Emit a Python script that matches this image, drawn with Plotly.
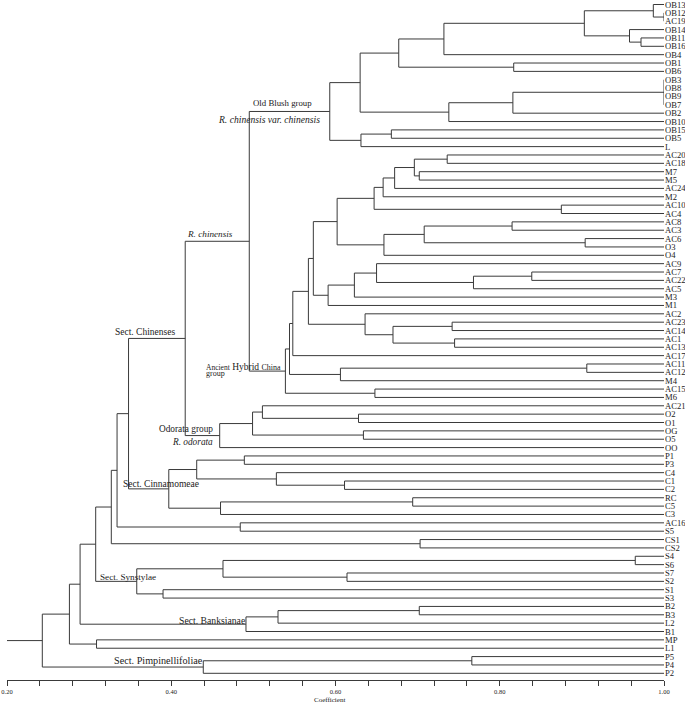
import plotly.graph_objects as go

# ---------------- data ----------------
leaves = ["OB13", "OB12", "AC19", "OB14", "OB11", "OB16", "OB4", "OB1", "OB6",
          "OB3", "OB8", "OB9", "OB7", "OB2", "OB10", "OB15", "OB5", "L",
          "AC20", "AC18", "M7", "M5", "AC24", "M2", "AC10", "AC4", "AC8", "AC3",
          "AC6", "O3", "O4", "AC9", "AC7", "AC22", "AC5", "M3", "M1", "AC2",
          "AC23", "AC14", "AC1", "AC13", "AC17", "AC11", "AC12", "M4", "AC15", "M6",
          "AC21", "O2", "O1", "OG", "O5", "OO",
          "P1", "P3", "C4", "C1", "C2", "RC", "C5", "C3",
          "AC16", "S5", "CS1", "CS2",
          "S4", "S6", "S7", "S2", "S1", "S3",
          "B2", "B3", "L2", "B1", "MP", "L1", "P5", "P4", "P2"]

leaf_coef = 1.00

# merges (bottom-up): node name, joined children, similarity coefficient
node_names = ["n1", "n2", "n3", "n4", "n5", "n6", "n7", "n8", "n9", "n10", "n11", "n12", "n13", "n14", "oldblush",
              "h1", "h2", "h3", "h4", "h5", "h6", "h7", "h8", "h9", "h10", "h11", "h12", "h13", "h14", "h15",
              "h16", "h17", "h18", "h19", "h20", "h21", "h22", "h23", "h24", "h25", "h26", "h27", "h28", "ahc",
              "chin",
              "o1", "o2", "o3", "o4", "odor",
              "c0",
              "p1", "p2", "p3", "p4", "p5", "p6", "cinn",
              "s0", "q1", "q2", "q3", "q4",
              "y1", "y2", "y3", "y4", "syn", "q5",
              "b1", "b2", "bank", "q6", "m1", "q7",
              "r1", "pimp", "root"]

node_children = [["OB12", "AC19"], ["OB13", "n1"], ["OB11", "OB16"], ["OB14", "n3"], ["n2", "n4"],
                 ["n5", "OB4"], ["OB1", "OB6"], ["n6", "n7"], ["OB3", "OB8", "OB9", "OB7"], ["n9", "OB2"],
                 ["n10", "OB10"], ["n8", "n11"], ["OB15", "OB5"], ["n13", "L"], ["n12", "n14"],
                 ["AC20", "AC18"], ["M7", "M5"], ["h1", "h2"], ["h3", "AC24"], ["h4", "M2"],
                 ["AC10", "AC4"], ["h5", "h6"], ["AC8", "AC3"], ["AC6", "O3"], ["h8", "h9"],
                 ["h10", "O4"], ["h7", "h11"], ["AC7", "AC22"], ["h13", "AC5"], ["AC9", "h14"],
                 ["h15", "M3"], ["h16", "M1"], ["h12", "h17"], ["AC23", "AC14"], ["AC1", "AC13"],
                 ["h19", "h20"], ["AC2", "h21"], ["h18", "h22"], ["h23", "AC17"], ["AC11", "AC12"],
                 ["h25", "M4"], ["h24", "h26"], ["AC15", "M6"], ["h27", "h28"],
                 ["oldblush", "ahc"],
                 ["O2", "O1"], ["AC21", "o1"], ["OG", "O5"], ["o2", "o3"], ["o4", "OO"],
                 ["chin", "odor"],
                 ["P1", "P3"], ["C1", "C2"], ["C4", "p2"], ["p1", "p3"], ["RC", "C5"], ["p5", "C3"], ["p4", "p6"],
                 ["c0", "cinn"], ["AC16", "S5"], ["s0", "q1"], ["CS1", "CS2"], ["q2", "q3"],
                 ["S4", "S6"], ["S7", "S2"], ["y1", "y2"], ["S1", "S3"], ["y3", "y4"], ["q4", "syn"],
                 ["B2", "B3"], ["b1", "L2"], ["b2", "B1"], ["q5", "bank"], ["MP", "L1"], ["q6", "m1"],
                 ["P5", "P4"], ["r1", "P2"], ["q7", "pimp"]]

node_coef = [1.000, 0.987, 0.972, 0.958, 0.903, 0.732, 0.817, 0.677, 1.000, 0.816, 0.738, 0.630, 0.668, 0.631, 0.593,
             0.736, 0.702, 0.696, 0.672, 0.658, 0.875, 0.647, 0.815, 0.904, 0.708, 0.659, 0.602, 0.839, 0.768, 0.650,
             0.623, 0.591, 0.573, 0.742, 0.745, 0.670, 0.636, 0.567, 0.548, 0.906, 0.606, 0.544, 0.648, 0.539,
             0.495,
             0.628, 0.511, 0.634, 0.499, 0.459,
             0.417,
             0.489, 0.611, 0.528, 0.431, 0.694, 0.460, 0.397,
             0.348, 0.484, 0.334, 0.703, 0.327,
             0.965, 0.614, 0.463, 0.390, 0.358, 0.308,
             0.702, 0.530, 0.491, 0.289, 0.309, 0.276,
             0.766, 0.439, 0.243]

tick_vals = [0.20, 0.40, 0.60, 0.80, 1.00]
tick_text = ["0.20", "0.40", "0.60", "0.80", "1.00"]
axis_min, axis_max = 0.20, 1.00

# group labels: text, coefficient, leaf-row position
group_text = ["Old Blush group", "<i>R. chinensis var. chinensis</i>", "<i>R. chinensis</i>", "Sect. Chinenses",
              "<span style='font-size:7.5px'>Ancient</span> Hybrid <span style='font-size:8px'>China</span>",
              "group",
              "Odorata group", "<i>R. odorata</i>", "Sect. Cinnamomeae", "Sect. Synstylae",
              "Sect. Banksianae", "Sect. Pimpinellifoliae"]
group_x = [0.4983, 0.456, 0.4183, 0.3298, 0.4406, 0.4406, 0.3834, 0.4001, 0.340, 0.3124, 0.4082, 0.329]
group_y = [11.74, 13.73, 27.48, 39.13, 43.31, 44.18, 50.76, 52.28, 57.37, 68.42, 73.69, 78.5]
group_size = [8.8, 9.6, 9.2, 9.5, 9.5, 8, 9.3, 9.3, 9.5, 9.2, 9.7, 10.2]

# ---------------- build dendrogram segments ----------------
pos = {name: (leaf_coef, i) for i, name in enumerate(leaves)}
xs, ys = [], []
for name, kids, h in zip(node_names, node_children, node_coef):
    kid_y = [pos[k][1] for k in kids]
    for k in kids:
        kx, ky = pos[k]
        xs += [kx, h, None]
        ys += [ky, ky, None]
    xs += [h, h, None]
    ys += [min(kid_y), max(kid_y), None]
    pos[name] = (h, (min(kid_y) + max(kid_y)) / 2)
rx, ry = pos["root"]
xs += [axis_min, rx, None]
ys += [ry, ry, None]

FONT = "Liberation Serif, Times New Roman, serif"
LINE = "#3a3a3a"
TXT = "#222222"

fig = go.Figure()
fig.add_trace(go.Scatter(x=xs, y=ys, mode="lines", line=dict(color=LINE, width=1),
                         hoverinfo="skip", showlegend=False, cliponaxis=False))

for i, name in enumerate(leaves):
    fig.add_annotation(x=leaf_coef, y=i, xref="x", yref="y", text=name, showarrow=False,
                       xanchor="left", yanchor="middle", borderpad=0, xshift=-0.5,
                       font=dict(family=FONT, size=8.6, color=TXT))

for t, gx, gy, gs in zip(group_text, group_x, group_y, group_size):
    fig.add_annotation(x=gx, y=gy, xref="x", yref="y", text=t, showarrow=False, borderpad=0,
                       xanchor="left", yanchor="middle", font=dict(family=FONT, size=gs, color=TXT))

fig.add_annotation(x=0.4916, y=-0.0294, xref="paper", yref="paper", text="Coefficient", showarrow=False,
                   xanchor="center", yanchor="middle", font=dict(family=FONT, size=7, color=TXT))

n = len(leaves)
fig.update_layout(
    width=685, height=704,
    margin=dict(l=6.7, r=21.3, t=0, b=24, pad=0),
    paper_bgcolor="white", plot_bgcolor="white",
    template="none",
    xaxis=dict(range=[axis_min, axis_max], tickvals=tick_vals, ticktext=tick_text,
               showline=True, linecolor=LINE, linewidth=1, ticks="outside", ticklen=5,
               tickcolor=LINE, tickwidth=1, showgrid=False, zeroline=False, automargin=False,
               tickfont=dict(family=FONT, size=6.5, color=TXT),
               minor=dict(dtick=0.04, tick0=0.2, ticks="outside", ticklen=5, tickcolor=LINE, tickwidth=1,
                          showgrid=False)),
    yaxis=dict(range=[n - 1 + 0.80, -0.538], visible=False, showgrid=False, zeroline=False, automargin=False),
)

fig.write_html("out.html", config={"displayModeBar": False},
               post_script="document.body.style.margin='0';document.body.style.overflow='hidden';")
